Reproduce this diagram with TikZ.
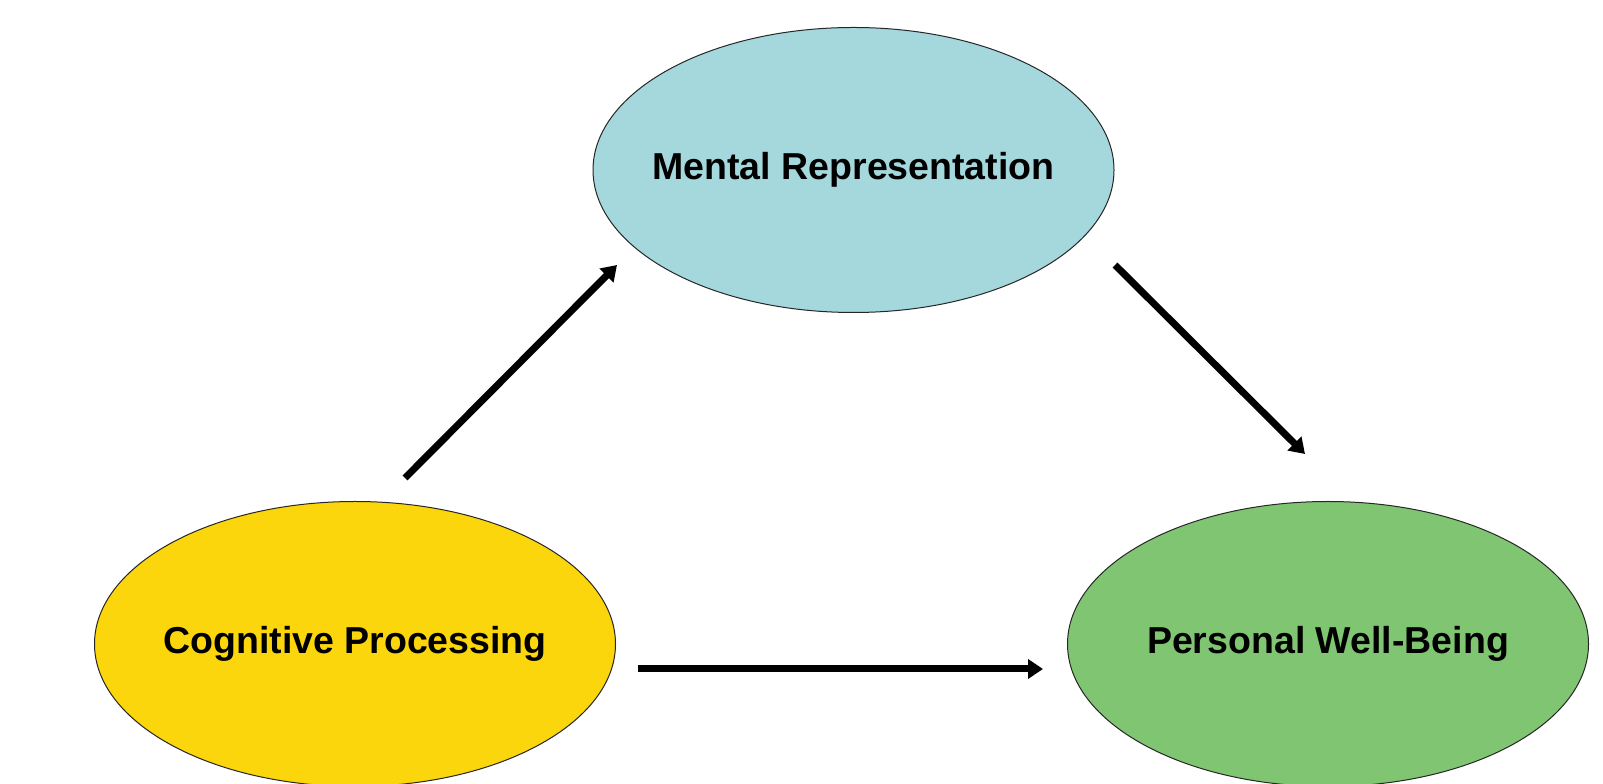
\documentclass[tikz,border=0pt]{standalone}
\usepackage{fontspec}
\setmainfont{Liberation Sans}
\usepackage{xcolor}
\definecolor{celeste}{HTML}{A4D8DC}
\definecolor{amarillo}{HTML}{FCD60C}
\definecolor{verde}{HTML}{80C672}
\usepackage{tikz}
\usetikzlibrary{positioning,arrows.meta,shapes.geometric}
\newcommand{\rotulo}[1]{\makebox[0pt]{#1}}

\begin{document}
\begin{tikzpicture}[
  x=1pt, y=1pt,
  font=\fontsize{37.5}{45}\selectfont\bfseries,
  oval/.style={ellipse, draw=black!85, line width=1pt, minimum width=521pt, minimum height=285pt, inner sep=0pt},
  link/.style={-{Triangle[length=15pt,width=19pt]}, draw=black, line width=7pt}
]
\useasboundingbox (0,0) rectangle (1603,784);
\node[oval, fill=amarillo] (cog) at (355,140) {\rotulo{Cognitive Processing}};
\node[oval, fill=verde, right=451pt of cog] (wb) {\rotulo{Personal Well-Being}};
\node[oval, fill=celeste] (rep) at (853.5,614) {\rotulo{Mental Representation}};
\coordinate (cog-up) at (405,306);
\coordinate (rep-in) at (617,519);
\coordinate (rep-out) at (1115,519);
\coordinate (wb-in) at (1305,330);
\coordinate (cog-right) at (638,115);
\coordinate (wb-left) at (1043,115);
\draw[link] (cog-up) -- (rep-in);
\draw[link] (rep-out) -- (wb-in);
\draw[link] (cog-right) -- (wb-left);
\end{tikzpicture}
\end{document}
